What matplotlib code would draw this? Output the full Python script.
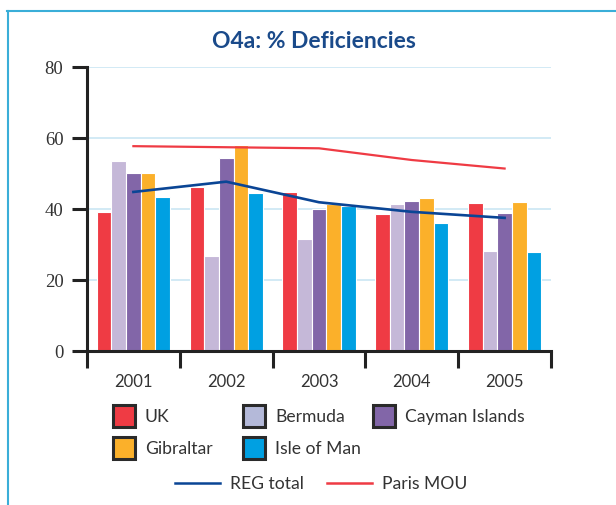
import numpy as np
import matplotlib.pyplot as plt
from matplotlib.patches import Rectangle
from matplotlib.lines import Line2D

years = ['2001', '2002', '2003', '2004', '2005']
series = ['UK', 'Bermuda', 'Cayman Islands', 'Gibraltar', 'Isle of Man']
uk = [39.2, 46.3, 44.8, 38.6, 41.7]
bermuda = [53.5, 26.9, 31.5, 41.4, 28.2]
cayman = [50.1, 54.4, 40.0, 42.3, 38.9]
gibraltar = [50.1, 58.0, 41.4, 43.1, 42.0]
isle_of_man = [43.4, 44.5, 40.8, 36.1, 27.9]
reg_total = [44.8, 47.7, 41.9, 39.2, 37.5]
paris_mou = [57.7, 57.4, 57.1, 53.8, 51.4]

bar_colors = ['#ef3b44', '#c5b8d8', '#8266a8', '#fbb02a', '#00a0e2']
legend_colors = ['#ef3b44', '#b4b9d9', '#8266a8', '#fbb02a', '#00a0e2']
navy = '#0a4595'
red = '#ef3b44'
sans = 'Lato'

W, H = 616, 506
fig = plt.figure(figsize=(W / 100, H / 100), dpi=100)
ax = fig.add_axes([87 / W, 1 - 352 / H, (551 - 87) / W, (352 - 68) / H])

# frame lines around the panel
fig.add_artist(Line2D([7 / W, 1], [1 - 12 / H] * 2, color='#3aaed8', lw=1.5))
fig.add_artist(Line2D([8 / W] * 2, [0, 1 - 12 / H], color='#3aaed8', lw=1.5))

x = np.arange(len(years))
step = 0.158
vals = [uk, bermuda, cayman, gibraltar, isle_of_man]
for i, (v, c) in enumerate(zip(vals, bar_colors)):
    ax.bar(x + (i - 2) * step, v, width=step, color=c, edgecolor='white',
           linewidth=0.8, zorder=2)

ax.plot(x, reg_total, color=navy, lw=1.9, zorder=3)
ax.plot(x, paris_mou, color=red, lw=1.6, zorder=3)

ax.set_xlim(-0.5, 4.5)
ax.set_ylim(0, 80)
ax.set_yticks([0, 20, 40, 60, 80])
ax.yaxis.grid(True, color='#cfe8f5', lw=1.3, zorder=0)
ax.set_axisbelow(True)
for s in ['top', 'right']:
    ax.spines[s].set_visible(False)
for s in ['left', 'bottom']:
    ax.spines[s].set_linewidth(2.2)
    ax.spines[s].set_color('#222222')

ax.set_xticks(np.arange(-0.5, 5, 1))
ax.set_xticklabels([])
ax.set_xticks(x, minor=True)
ax.set_xticklabels(years, minor=True, fontsize=12, family=sans, color='#333333')
ax.tick_params(axis='x', which='major', length=12, width=2.2, color='#222222')
ax.tick_params(axis='x', which='minor', length=0, pad=16)
ax.tick_params(axis='y', length=11, width=2.2, color='#222222', pad=6)
for t in ax.get_yticklabels():
    t.set_family('Liberation Serif')
    t.set_fontsize(13.5)
    t.set_color('#333333')

fig.text(314 / W, 1 - 42 / H, 'O4a: % Deficiencies', ha='center', va='center',
         fontsize=16.5, fontweight='bold', color='#1a4a8a', family=sans)

# legend for bars
pos = [(113, 417), (243, 417), (373, 417), (113, 449), (243, 449)]
for name, c, (px, py) in zip(series, legend_colors, pos):
    fig.add_artist(Rectangle((px / W, 1 - (py + 11) / H), 22 / W, 22 / H,
                             facecolor=c, edgecolor='#2a2a2a', lw=2.2))
    fig.text((px + 32) / W, 1 - py / H, name, ha='left', va='center',
             fontsize=12.6, family=sans, color='#333333')

# legend for lines
for name, c, lx in zip(['REG total', 'Paris MOU'], [navy, red], [175, 327]):
    fig.add_artist(Line2D([lx / W, (lx + 45) / W], [1 - 484 / H] * 2, color=c, lw=1.8))
    fig.text((lx + 55) / W, 1 - 484 / H, name, ha='left', va='center',
             fontsize=12.6, family=sans, color='#333333')

fig.savefig('out.png', dpi=100)
